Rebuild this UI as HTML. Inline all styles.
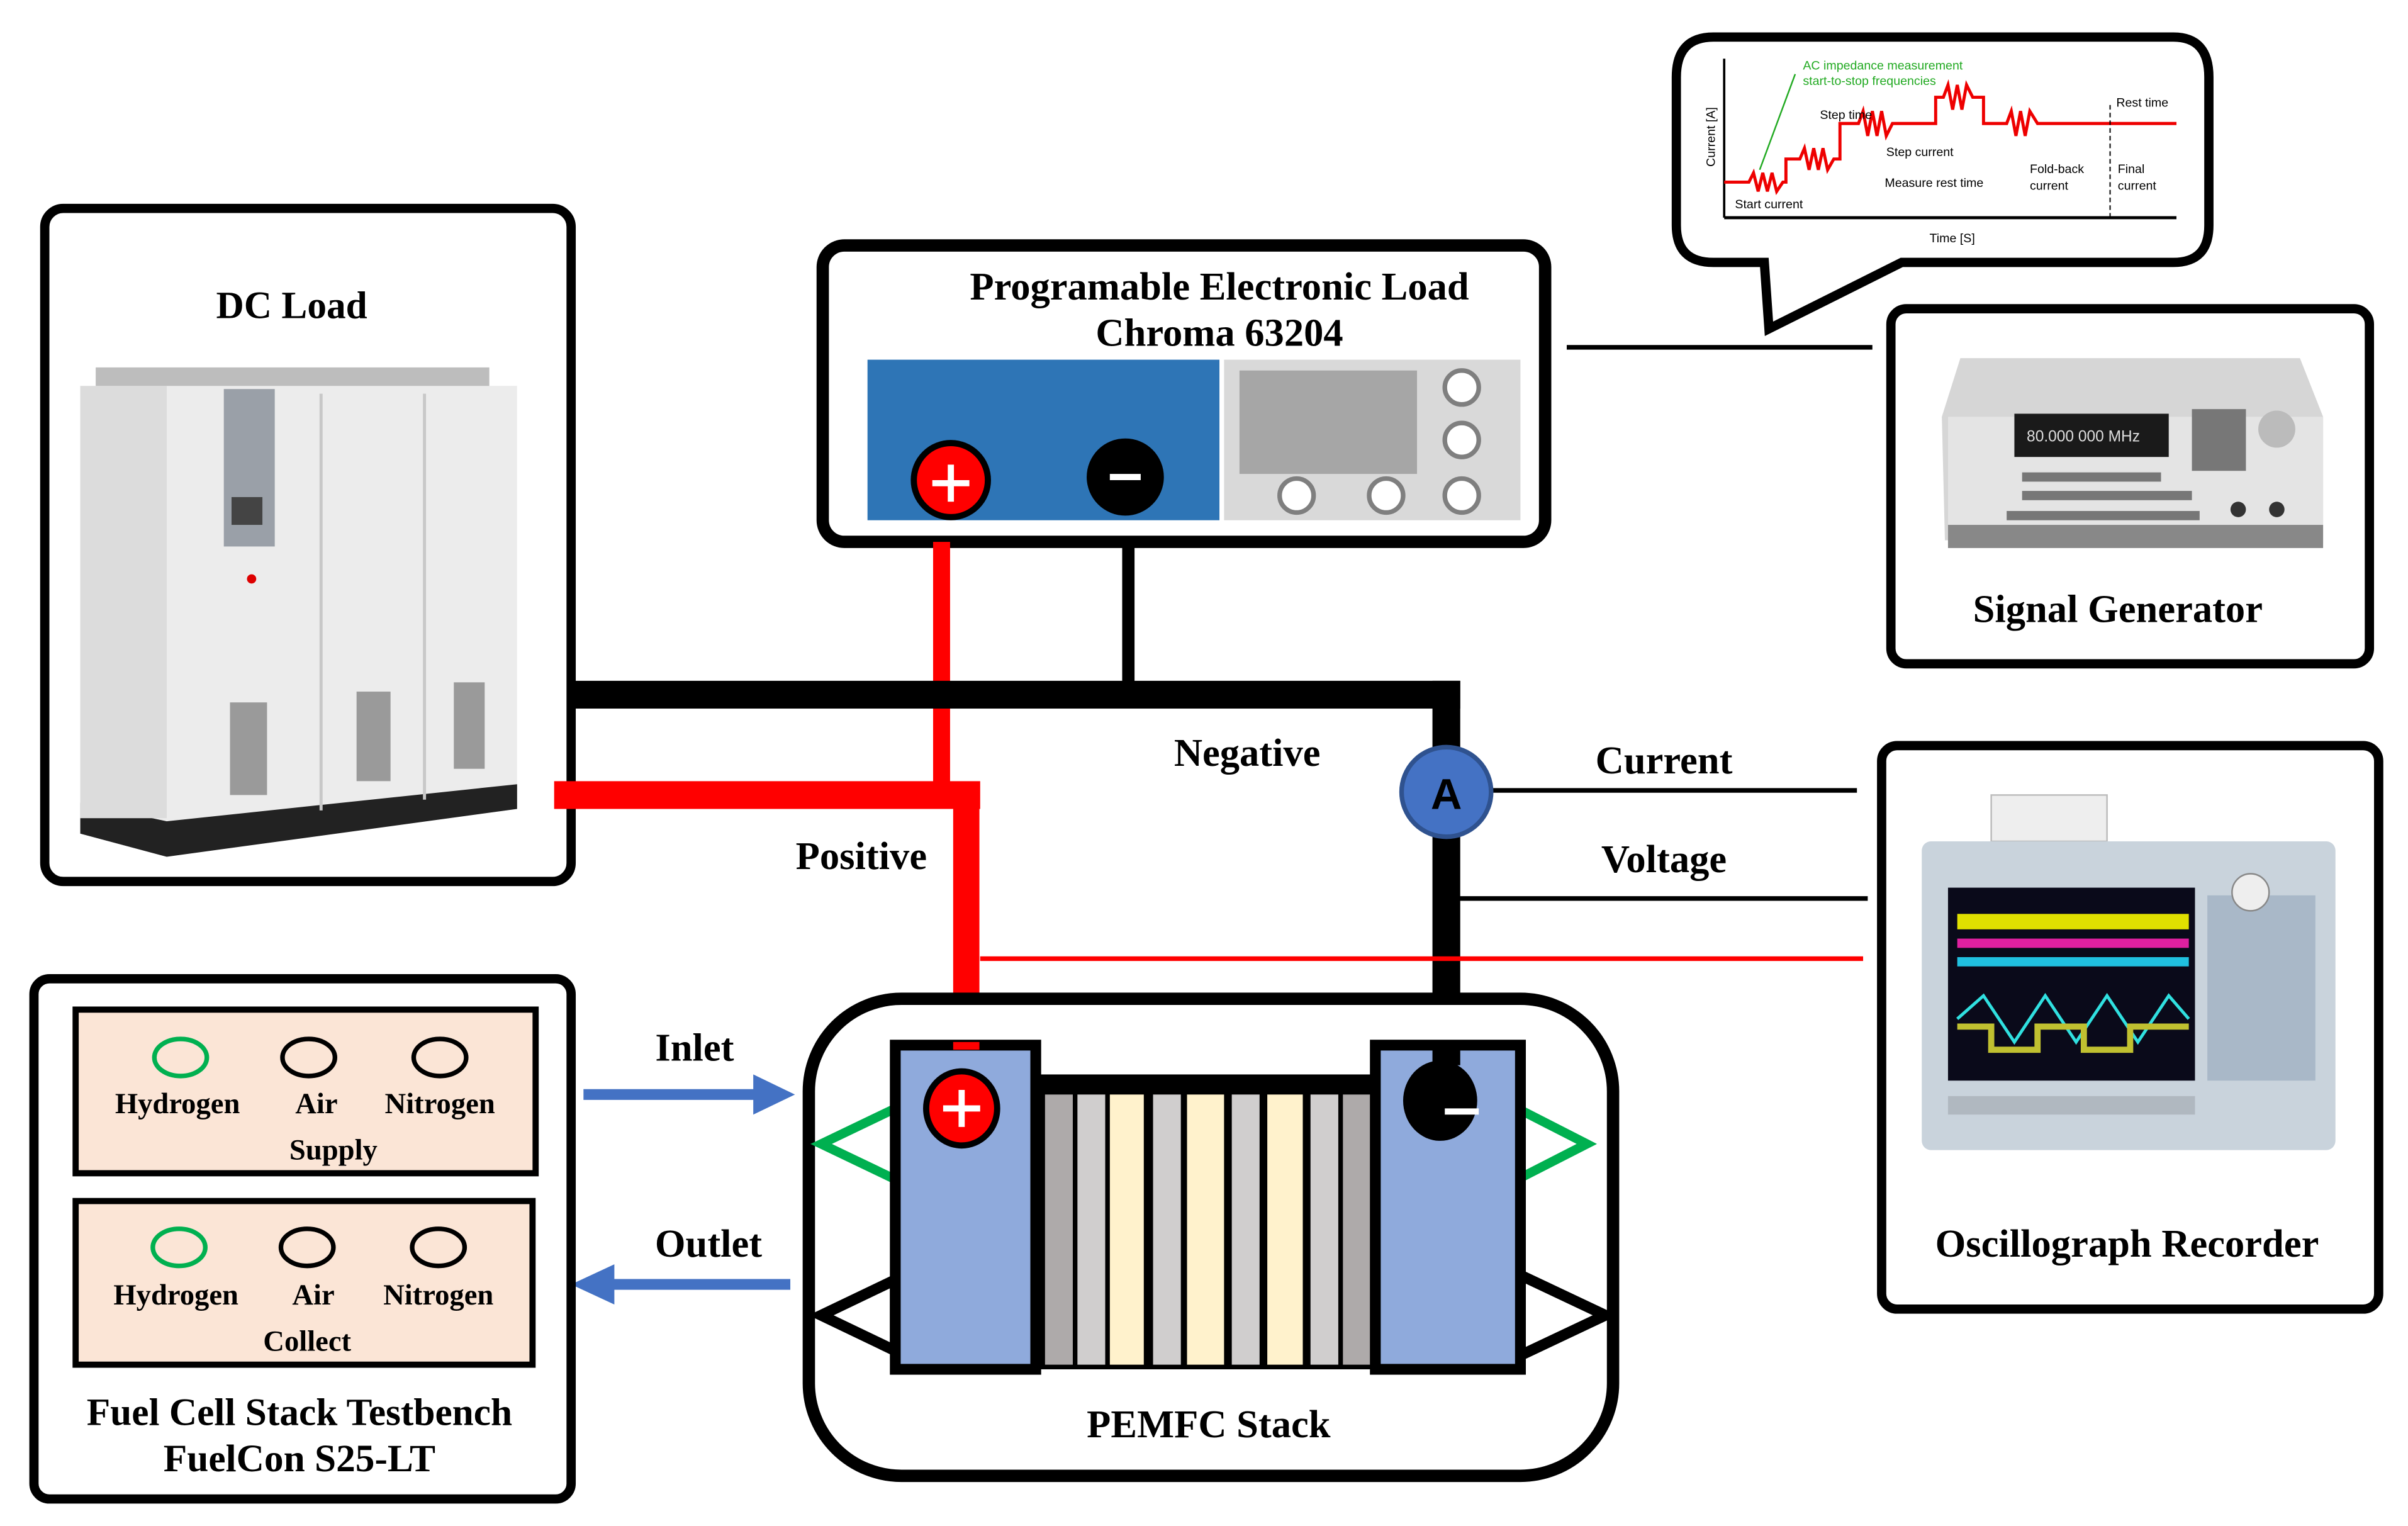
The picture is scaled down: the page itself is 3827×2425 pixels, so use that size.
<!DOCTYPE html>
<html><head><meta charset="utf-8"><style>
html,body{margin:0;padding:0;background:#fff;}
svg{display:block;}
text{font-family:"Liberation Serif",serif;font-weight:bold;}
.s{font-family:"Liberation Sans",sans-serif;font-weight:normal;}
</style></head><body>
<svg width="3827" height="2425" viewBox="0 0 1560 988.5" preserveAspectRatio="none" xmlns="http://www.w3.org/2000/svg">
<rect width="1560" height="988.5" fill="#fff"/>

<!-- DC Load -->
<rect x="29" y="135" width="341" height="436" rx="12" fill="#fff" stroke="#000" stroke-width="6"/>
<text x="189" y="206" font-size="25" text-anchor="middle">DC Load</text>
<polygon points="52,250 335,250 335,512 108,540 52,528" fill="#ececec"/>
<rect x="62" y="238" width="255" height="12" fill="#bdbdbd"/>
<polygon points="52,520 108,532 335,508 335,524 108,555 52,540" fill="#222"/>
<rect x="52" y="250" width="56" height="280" fill="#dcdcdc"/>
<rect x="145" y="252" width="33" height="102" fill="#9aa0a8"/>
<rect x="150" y="322" width="20" height="18" fill="#444"/>
<circle cx="163" cy="375" r="3" fill="#d00"/>
<line x1="208" y1="255" x2="208" y2="525" stroke="#c8c8c8" stroke-width="2"/>
<line x1="275" y1="255" x2="275" y2="518" stroke="#c8c8c8" stroke-width="2"/>
<rect x="149" y="455" width="24" height="60" fill="#9a9a9a"/>
<rect x="231" y="448" width="22" height="58" fill="#9a9a9a"/>
<rect x="294" y="442" width="20" height="56" fill="#9a9a9a"/>

<!-- Programmable load -->
<rect x="533" y="159" width="468" height="192" rx="14" fill="#fff" stroke="#000" stroke-width="8"/>
<text x="790" y="194" font-size="25.5" text-anchor="middle">Programable Electronic Load</text>
<text x="790" y="224" font-size="25.5" text-anchor="middle">Chroma 63204</text>
<rect x="562" y="233" width="228" height="104" fill="#2e75b6"/>
<rect x="793" y="233" width="192" height="104" fill="#d9d9d9"/>
<rect x="803" y="240" width="115" height="67" fill="#a6a6a6"/>
<g fill="#fff" stroke="#7f7f7f" stroke-width="3">
<circle cx="947" cy="251" r="11"/><circle cx="947" cy="285" r="11"/><circle cx="947" cy="321" r="11"/>
<circle cx="840" cy="321" r="11"/><circle cx="898" cy="321" r="11"/></g>

<!-- wires -->
<line x1="610" y1="351" x2="610" y2="515" stroke="#f00" stroke-width="11"/>
<line x1="359" y1="515" x2="635" y2="515" stroke="#f00" stroke-width="18"/>
<line x1="626" y1="507" x2="626" y2="680" stroke="#f00" stroke-width="17"/>
<line x1="731" y1="351" x2="731" y2="448" stroke="#000" stroke-width="8"/>
<line x1="370" y1="450" x2="946" y2="450" stroke="#000" stroke-width="18"/>
<line x1="937" y1="441" x2="937" y2="682" stroke="#000" stroke-width="18"/>
<line x1="960" y1="512" x2="1203" y2="512" stroke="#000" stroke-width="3"/>
<line x1="945" y1="582" x2="1210" y2="582" stroke="#000" stroke-width="3"/>
<line x1="635" y1="621" x2="1207" y2="621" stroke="#f00" stroke-width="3"/>
<line x1="1015" y1="225" x2="1213" y2="225" stroke="#000" stroke-width="3"/>

<circle cx="616" cy="311" r="24" fill="#f00" stroke="#000" stroke-width="4"/>
<path d="M604 313h24M616 301v24" stroke="#fff" stroke-width="4"/>
<circle cx="729" cy="309" r="25" fill="#000"/>
<path d="M719 309h20" stroke="#fff" stroke-width="4"/>

<circle cx="937" cy="513" r="29" fill="#4472c4" stroke="#2f528f" stroke-width="3"/>
<text x="937" y="524" font-size="28" text-anchor="middle" class="s" style="font-weight:bold" fill="#000">A</text>

<text x="808" y="496" font-size="25.5" text-anchor="middle">Negative</text>
<text x="558" y="563" font-size="25.5" text-anchor="middle">Positive</text>
<text x="1078" y="501" font-size="25.5" text-anchor="middle">Current</text>
<text x="1078" y="565" font-size="25.5" text-anchor="middle">Voltage</text>
<text x="450" y="687" font-size="25.5" text-anchor="middle">Inlet</text>
<text x="459" y="814" font-size="25.5" text-anchor="middle">Outlet</text>

<!-- arrows -->
<line x1="378" y1="709" x2="492" y2="709" stroke="#4472c4" stroke-width="7"/>
<polygon points="488,696 515,709 488,722" fill="#4472c4"/>
<line x1="512" y1="832" x2="394" y2="832" stroke="#4472c4" stroke-width="7"/>
<polygon points="398,819 370,832 398,845" fill="#4472c4"/>

<!-- speech bubble -->
<path d="M1110 24 H1408 Q1431 24 1431 50 V146 Q1431 170 1408 170 H1232 L1146 213 L1143 170 H1110 Q1086 170 1086 146 V50 Q1086 24 1110 24 Z" fill="#fff" stroke="#000" stroke-width="6"/>
<line x1="1117" y1="38" x2="1117" y2="141" stroke="#000" stroke-width="1.5"/>
<line x1="1117" y1="141" x2="1410" y2="141" stroke="#000" stroke-width="2"/>
<polyline points="1117,118 1133,118 1136,112 1139,124 1142,112 1145,124 1148,112 1151,124 1155,118 1157,118 1157,103 1166,103 1169,96 1172,110 1175,96 1178,110 1181,96 1184,110 1188,103 1192,103 1192,80 1204,80 1207,72 1210,88 1213,72 1216,88 1219,72 1222,88 1226,80 1254,80 1254,63 1259,63 1262,55 1265,71 1268,55 1271,71 1274,55 1278,63 1285,63 1285,80 1300,80 1303,72 1306,88 1309,72 1312,88 1315,72 1320,80 1410,80" fill="none" stroke="#e00" stroke-width="2"/>
<line x1="1140" y1="110" x2="1163" y2="48" stroke="#2a2" stroke-width="1"/>
<line x1="1367" y1="68" x2="1367" y2="141" stroke="#000" stroke-width="0.8" stroke-dasharray="3,2"/>
<g class="s" font-size="8">
<text class="s" x="1168" y="45" fill="#2a2">AC impedance measurement</text>
<text class="s" x="1168" y="55" fill="#2a2">start-to-stop frequencies</text>
<text class="s" x="1179" y="77">Step time</text>
<text class="s" x="1222" y="101">Step current</text>
<text class="s" x="1221" y="121">Measure rest time</text>
<text class="s" x="1124" y="135">Start current</text>
<text class="s" x="1315" y="112">Fold-back</text>
<text class="s" x="1315" y="123">current</text>
<text class="s" x="1371" y="69">Rest time</text>
<text class="s" x="1372" y="112">Final</text>
<text class="s" x="1372" y="123">current</text>
<text class="s" x="1250" y="157">Time [S]</text>
<text class="s" x="1111" y="108" transform="rotate(-90 1111 108)">Current [A]</text>
</g>

<!-- Signal generator -->
<rect x="1225" y="200" width="310" height="230" rx="10" fill="#fff" stroke="#000" stroke-width="6"/>
<polygon points="1270,232 1490,232 1505,270 1505,350 1260,350 1258,270" fill="#d6d6d6"/>
<rect x="1262" y="270" width="243" height="82" fill="#e4e4e4"/>
<rect x="1262" y="340" width="243" height="15" fill="#888"/>
<rect x="1305" y="268" width="100" height="28" fill="#1a1a1a"/>
<text class="s" x="1313" y="286" font-size="10" fill="#ddd">80.000 000 MHz</text>
<circle cx="1475" cy="278" r="12" fill="#bbb"/>
<g fill="#777"><rect x="1310" y="306" width="90" height="6"/><rect x="1310" y="318" width="110" height="6"/><rect x="1300" y="331" width="125" height="6"/><rect x="1420" y="265" width="35" height="40"/></g>
<circle cx="1450" cy="330" r="5" fill="#333"/><circle cx="1475" cy="330" r="5" fill="#333"/>
<text x="1372" y="403" font-size="25.5" text-anchor="middle">Signal Generator</text>

<!-- Oscillograph -->
<rect x="1219" y="483" width="322" height="365" rx="10" fill="#fff" stroke="#000" stroke-width="6"/>
<rect x="1290" y="515" width="75" height="30" fill="#eee" stroke="#bbb"/>
<rect x="1245" y="545" width="268" height="200" rx="6" fill="#c9d3dc"/>
<rect x="1262" y="575" width="160" height="125" fill="#0a0a1a"/>
<rect x="1268" y="592" width="150" height="10" fill="#e0e000"/>
<rect x="1268" y="608" width="150" height="6" fill="#e020a0"/>
<rect x="1268" y="620" width="150" height="6" fill="#20c0e0"/>
<polyline points="1268,660 1285,645 1305,675 1325,645 1345,675 1365,645 1385,675 1405,645 1418,660" fill="none" stroke="#30e0e0" stroke-width="2"/>
<polyline points="1268,665 1290,665 1290,680 1320,680 1320,665 1350,665 1350,680 1380,680 1380,665 1418,665" fill="none" stroke="#c0c030" stroke-width="4"/>
<rect x="1430" y="580" width="70" height="120" fill="#a9b8c8"/>
<circle cx="1458" cy="578" r="12" fill="#eee" stroke="#888"/>
<rect x="1262" y="710" width="160" height="12" fill="#b0b8c0"/>
<text x="1378" y="814" font-size="25.5" text-anchor="middle">Oscillograph Recorder</text>

<!-- Testbench -->
<rect x="22" y="634" width="348" height="337" rx="10" fill="#fff" stroke="#000" stroke-width="6"/>
<rect x="49" y="654" width="298" height="106" fill="#fbe5d6" stroke="#000" stroke-width="4"/>
<rect x="49" y="778" width="296" height="106" fill="#fbe5d6" stroke="#000" stroke-width="4"/>
<g fill="none" stroke-width="3">
<ellipse cx="117" cy="685" rx="17" ry="12" stroke="#00b050"/><ellipse cx="200" cy="685" rx="17" ry="12" stroke="#000"/><ellipse cx="285" cy="685" rx="17" ry="12" stroke="#000"/>
<ellipse cx="116" cy="808" rx="17" ry="12" stroke="#00b050"/><ellipse cx="199" cy="808" rx="17" ry="12" stroke="#000"/><ellipse cx="284" cy="808" rx="17" ry="12" stroke="#000"/></g>
<g font-size="19" text-anchor="middle">
<text x="115" y="721">Hydrogen</text><text x="205" y="721">Air</text><text x="285" y="721">Nitrogen</text><text x="216" y="751">Supply</text>
<text x="114" y="845">Hydrogen</text><text x="203" y="845">Air</text><text x="284" y="845">Nitrogen</text><text x="199" y="875">Collect</text></g>
<text x="194" y="923" font-size="25" text-anchor="middle">Fuel Cell Stack Testbench</text>
<text x="194" y="953" font-size="25" text-anchor="middle">FuelCon S25-LT</text>

<!-- PEMFC -->
<rect x="524" y="647" width="521" height="309" rx="60" fill="#fff" stroke="#000" stroke-width="8"/>
<polygon points="532,741 580,718 580,764 " fill="#fff" stroke="#00b050" stroke-width="6"/>
<polygon points="1028,741 985,719 985,763" fill="#fff" stroke="#00b050" stroke-width="6"/>
<polygon points="532,852 580,829 580,875" fill="#fff" stroke="#000" stroke-width="7"/>
<polygon points="1040,852 985,826 985,878" fill="#fff" stroke="#000" stroke-width="7"/>
<rect x="670" y="696" width="222" height="191" fill="#000"/>
<g>
<rect x="677" y="709" width="18" height="175" fill="#aeaaaa"/>
<rect x="698" y="709" width="18" height="175" fill="#d0cece"/>
<rect x="719" y="709" width="22" height="175" fill="#fff2cc"/>
<rect x="747" y="709" width="18" height="175" fill="#d0cece"/>
<rect x="769" y="709" width="24" height="175" fill="#fff2cc"/>
<rect x="798" y="709" width="18" height="175" fill="#d0cece"/>
<rect x="821" y="709" width="23" height="175" fill="#fff2cc"/>
<rect x="849" y="709" width="18" height="175" fill="#d0cece"/>
<rect x="870" y="709" width="20" height="175" fill="#aeaaaa"/>
</g>
<rect x="580" y="677" width="91" height="210" fill="#8faadc" stroke="#000" stroke-width="7"/>
<rect x="891" y="677" width="94" height="210" fill="#8faadc" stroke="#000" stroke-width="7"/>
<line x1="626" y1="675" x2="626" y2="680" stroke="#f00" stroke-width="17"/>
<line x1="937" y1="675" x2="937" y2="690" stroke="#000" stroke-width="18"/>
<ellipse cx="623" cy="718" rx="23" ry="24" fill="#f00" stroke="#000" stroke-width="4"/>
<path d="M611 718h24M623 706v24" stroke="#fff" stroke-width="4"/>
<ellipse cx="933" cy="713" rx="24" ry="26" fill="#000"/>
<path d="M936 720h22" stroke="#fff" stroke-width="4"/>
<text x="783" y="931" font-size="25.5" text-anchor="middle">PEMFC Stack</text>
</svg>
</body></html>
